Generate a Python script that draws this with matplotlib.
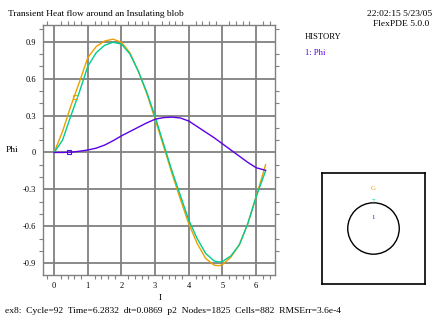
import matplotlib
matplotlib.use('Agg')
from matplotlib import pyplot as plt
from matplotlib.ticker import MultipleLocator, FixedLocator

t = [0, 0.25, 0.5, 0.75, 1.0, 1.25, 1.5, 1.75, 2.0, 2.25, 2.5, 2.75, 3.0, 3.25,
     3.5, 3.75, 4.0, 4.25, 4.5, 4.75, 4.9, 5.0, 5.25, 5.5, 5.75, 6.0, 6.28]
orange = [0, 0.17, 0.38, 0.57, 0.77, 0.86, 0.905, 0.92, 0.895, 0.81, 0.66, 0.48, 0.27, 0.05,
          -0.17, -0.38, -0.58, -0.74, -0.86, -0.915, -0.92, -0.91, -0.85, -0.75, -0.58, -0.36, -0.10]
green = [0, 0.10, 0.30, 0.49, 0.70, 0.81, 0.87, 0.895, 0.88, 0.80, 0.66, 0.49, 0.29, 0.07,
         -0.15, -0.35, -0.55, -0.70, -0.82, -0.88, -0.89, -0.885, -0.84, -0.75, -0.58, -0.36, -0.15]
phi = [0, 0, 0.002, 0.01, 0.02, 0.035, 0.06, 0.095, 0.135, 0.17, 0.205, 0.24, 0.27, 0.283,
       0.287, 0.28, 0.255, 0.21, 0.165, 0.12, 0.09, 0.07, 0.02, -0.03, -0.08, -0.124, -0.145]

xticks = [0, 1, 2, 3, 4, 5, 6]
yticks = [-0.9, -0.6, -0.3, 0, 0.3, 0.6, 0.9]
ylabels = ['-0.9', '-0.6', '-0.3', '0', '0.3', '0.6', '0.9']

c_orange = '#eca000'
c_green = '#00cc90'
c_purple = '#5c00e8'
gray = '#808080'

plt.rcParams['font.family'] = ['Liberation Serif', 'DejaVu Serif']

fig = plt.figure(figsize=(4.48, 3.36), dpi=100)

ax = fig.add_axes([43 / 448, 1 - 275 / 336, 232 / 448, 250 / 336])
ax.grid(False)
for x in xticks:
    ax.axvline(x, color=gray, lw=1.3, zorder=0)
for y in yticks:
    ax.axhline(y, color=gray, lw=1.3, zorder=0)
ax.plot(t, orange, color=c_orange, lw=1.0)
ax.plot(t, green, color=c_green, lw=1.0)
ax.plot(t, phi, color=c_purple, lw=1.0)
ax.plot([0.62], [0.45], 's', ms=3, mfc='none', mec=c_orange, mew=0.8)
ax.plot([0.45], [0.0], 's', ms=3, mfc='none', mec=c_purple, mew=0.8)

ax.set_xlim(-0.33, 6.56)
ax.set_ylim(-0.995, 1.035)
ax.xaxis.set_major_locator(FixedLocator(xticks))
ax.yaxis.set_major_locator(FixedLocator(yticks))
ax.set_yticklabels(ylabels)
ax.xaxis.set_minor_locator(MultipleLocator(0.2))
ax.yaxis.set_minor_locator(MultipleLocator(0.1))
ax.tick_params(which='major', length=0, labelsize=6, pad=5)
ax.tick_params(which='minor', direction='out', length=3, color=gray, width=0.8,
               top=True, right=True)
for s in ax.spines.values():
    s.set_color(gray)
    s.set_linewidth(1.0)

fig.text(8 / 448, 1 - 14 / 336, 'Transient Heat flow around an Insulating blob', fontsize=6.8, va='center')
fig.text(432 / 448, 1 - 14 / 336, '22:02:15 5/23/05', fontsize=6.8, va='center', ha='right')
fig.text(429 / 448, 1 - 24 / 336, 'FlexPDE 5.0.0', fontsize=6.8, va='center', ha='right')
fig.text(305 / 448, 1 - 37 / 336, 'HISTORY', fontsize=6.2, va='center')
fig.text(305 / 448, 1 - 53 / 336, '1: Phi', fontsize=6.2, va='center', color=c_purple)
fig.text(12 / 448, 1 - 150 / 336, 'Phi', fontsize=6.8, va='center', ha='center')
fig.text(160 / 448, 1 - 298 / 336, 'I', fontsize=6.8, va='center', ha='center')
fig.text(5 / 448, 1 - 311 / 336,
         'ex8:  Cycle=92  Time=6.2832  dt=0.0869  p2  Nodes=1825  Cells=882  RMSErr=3.6e-4',
         fontsize=6.8, va='center')

# inset: domain with the blob
ins = fig.add_axes([322 / 448, 1 - 284 / 336, 103 / 448, 111 / 336])
ins.set_xlim(-1, 1)
ins.set_ylim(-1.08, 1.08)
ins.add_patch(plt.Circle((0, 0), 0.5, fill=False, color='black', lw=1.0))
ins.text(0, 0.78, 'G', color=c_orange, fontsize=5, ha='center', va='center')
ins.text(0, 0.52, '7', color=c_green, fontsize=5, ha='center', va='center')
ins.text(0, 0.22, '1', color=c_purple, fontsize=5, ha='center', va='center')
ins.set_xticks([])
ins.set_yticks([])
for s in ins.spines.values():
    s.set_linewidth(1.2)

plt.savefig('out.png', dpi=100)
